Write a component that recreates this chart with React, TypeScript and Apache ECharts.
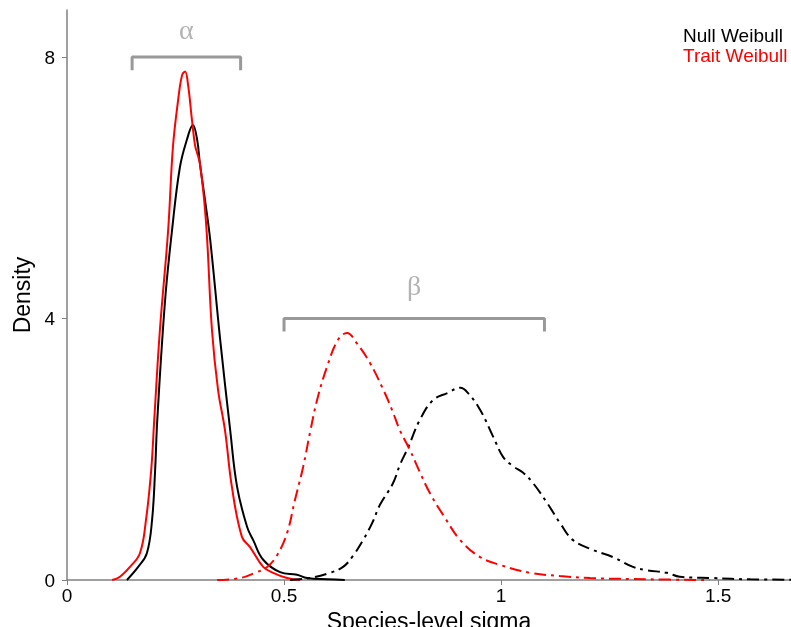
import React, { useEffect, useRef } from "react";
import * as echarts from "echarts";

const seriesNames = ["Null Weibull", "Trait Weibull"];
const seriesColors = ["#000000", "#ff0000"];

// alpha (solid) — Null Weibull
const nullAlphaX = [0.138, 0.164, 0.184, 0.196, 0.203, 0.208, 0.226, 0.242, 0.26, 0.276, 0.29, 0.3, 0.306, 0.318, 0.33, 0.353, 0.376, 0.392, 0.415, 0.429, 0.452, 0.491, 0.53, 0.553, 0.6, 0.64];
const nullAlphaY = [0, 0.2, 0.41, 0.92, 1.68, 2.45, 4.28, 5.35, 6.31, 6.73, 6.96, 6.73, 6.38, 5.81, 5.2, 3.67, 2.29, 1.42, 0.81, 0.61, 0.31, 0.12, 0.08, 0.03, 0.01, 0];

// alpha (solid) — Trait Weibull
const traitAlphaX = [0.104, 0.122, 0.145, 0.168, 0.182, 0.194, 0.201, 0.214, 0.233, 0.244, 0.256, 0.265, 0.272, 0.279, 0.288, 0.295, 0.3, 0.306, 0.316, 0.323, 0.334, 0.348, 0.364, 0.38, 0.403, 0.422, 0.452, 0.475, 0.507, 0.537];
const traitAlphaY = [0, 0.05, 0.2, 0.41, 0.92, 1.68, 2.45, 3.82, 5.35, 6.62, 7.34, 7.72, 7.78, 7.57, 7.03, 6.65, 6.53, 6.38, 5.81, 5.2, 3.82, 2.91, 2.29, 1.42, 0.66, 0.5, 0.2, 0.11, 0.03, 0];

// beta (dash-dot) — Null Weibull
const nullBetaX = [0.514, 0.56, 0.606, 0.636, 0.659, 0.682, 0.703, 0.721, 0.751, 0.767, 0.786, 0.813, 0.843, 0.876, 0.906, 0.924, 0.952, 0.982, 1.005, 1.028, 1.051, 1.074, 1.106, 1.136, 1.166, 1.212, 1.258, 1.304, 1.336, 1.382, 1.412, 1.488, 1.574, 1.668];
const nullBetaY = [0, 0.03, 0.11, 0.2, 0.37, 0.61, 0.87, 1.15, 1.48, 1.76, 2.03, 2.45, 2.75, 2.86, 2.94, 2.86, 2.6, 2.19, 1.88, 1.74, 1.64, 1.48, 1.18, 0.87, 0.61, 0.46, 0.35, 0.2, 0.15, 0.11, 0.05, 0.03, 0.01, 0.005];

// beta (dash-dot) — Trait Weibull
const traitBetaX = [0.346, 0.399, 0.433, 0.461, 0.484, 0.507, 0.525, 0.544, 0.56, 0.576, 0.599, 0.624, 0.645, 0.668, 0.698, 0.726, 0.749, 0.767, 0.79, 0.813, 0.836, 0.871, 0.906, 0.952, 0.998, 1.067, 1.136, 1.205, 1.343, 1.48];
const traitBetaY = [0, 0.03, 0.11, 0.2, 0.38, 0.72, 1.22, 1.73, 2.26, 2.75, 3.26, 3.67, 3.78, 3.62, 3.32, 2.95, 2.6, 2.29, 1.99, 1.65, 1.33, 0.95, 0.61, 0.35, 0.23, 0.11, 0.06, 0.03, 0.01, 0];

// brackets
const alphaBracketX = [0.15, 0.15, 0.4, 0.4];
const alphaBracketY = [7.8, 8.0, 8.0, 7.8];
const betaBracketX = [0.5, 0.5, 1.1, 1.1];
const betaBracketY = [3.8, 4.0, 4.0, 3.8];
const bracketLabels = ["α", "β"];
const bracketLabelX = [0.275, 0.8];
const bracketLabelY = [8.42, 4.5];

const xTicks = [0, 0.5, 1, 1.5];
const yTicks = [0, 4, 8];
const xMax = 1.668;
const yMax = 8.72;

const zip = (xs: number[], ys: number[]) => xs.map((x, i) => [x, ys[i]]);

const FONT = "Liberation Sans, Arial, sans-serif";
const DASHDOT = [12, 5, 3, 5];

export default function App() {
  const ref = useRef<HTMLDivElement>(null);
  useEffect(() => {
    if (!ref.current) return;
    const chart = echarts.init(ref.current, undefined, { renderer: "svg" });
    const curve = (name: string, color: string, data: number[][], dashed: boolean) => ({
      name,
      type: "line",
      data,
      showSymbol: false,
      symbol: "none",
      smooth: 0.4,
      lineStyle: { color, width: 2, type: dashed ? DASHDOT : "solid" },
      z: 3,
    });
    const bracket = (data: number[][]) => ({
      type: "line",
      data,
      symbol: "none",
      lineStyle: { color: "#999999", width: 3 },
      z: 2,
    });
    chart.setOption({
      animation: false,
      grid: { left: 67, right: 0, top: 10, bottom: 47, containLabel: false, outerBoundsMode: "none" },
      xAxis: {
        type: "value",
        min: 0,
        max: xMax,
        name: "Species-level sigma",
        nameLocation: "middle",
        nameGap: 24,
        nameTextStyle: { fontFamily: FONT, fontSize: 23, color: "#000" },
        axisLine: { show: true, onZero: false, lineStyle: { color: "#808080", width: 1.5 } },
        axisTick: { show: true, length: 5, lineStyle: { color: "#808080" }, customValues: xTicks },
        axisLabel: {
          fontFamily: FONT,
          fontSize: 19,
          color: "#000",
          margin: 6,
          customValues: xTicks,
          formatter: (v: number) => String(v),
        },
        splitLine: { show: false },
      },
      yAxis: {
        type: "value",
        min: 0,
        max: yMax,
        name: "Density",
        nameLocation: "middle",
        nameGap: 32,
        nameRotate: 90,
        nameTextStyle: { fontFamily: FONT, fontSize: 23, color: "#000" },
        axisLine: { show: true, onZero: false, lineStyle: { color: "#808080", width: 1.5 } },
        axisTick: { show: true, length: 5, lineStyle: { color: "#808080" }, customValues: yTicks },
        axisLabel: {
          fontFamily: FONT,
          fontSize: 19,
          color: "#000",
          margin: 12,
          customValues: yTicks,
          formatter: (v: number) => String(v),
        },
        splitLine: { show: false },
      },
      series: [
        bracket(zip(alphaBracketX, alphaBracketY)),
        bracket(zip(betaBracketX, betaBracketY)),
        {
          type: "scatter",
          symbolSize: 0,
          data: bracketLabelX.map((x, i) => ({ value: [x, bracketLabelY[i]], name: bracketLabels[i] })),
          label: {
            show: true,
            position: "inside",
            formatter: (p: any) => p.name,
            fontFamily: "Liberation Serif, DejaVu Serif, serif",
            fontSize: 28,
            color: "#a0a0a0",
          },
          silent: true,
        },
        curve(seriesNames[0], seriesColors[0], zip(nullAlphaX, nullAlphaY), false),
        curve(seriesNames[1], seriesColors[1], zip(traitAlphaX, traitAlphaY), false),
        curve(seriesNames[0], seriesColors[0], zip(nullBetaX, nullBetaY), true),
        curve(seriesNames[1], seriesColors[1], zip(traitBetaX, traitBetaY), true),
      ],
      graphic: seriesNames.map((n, i) => ({
        type: "text",
        left: 683,
        top: 26 + i * 20,
        style: { text: n, fill: seriesColors[i], fontFamily: FONT, fontSize: 19 },
      })),
    });
    return () => chart.dispose();
  }, []);
  return <div ref={ref} style={{ position: "fixed", left: 0, top: 0, width: 791, height: 627 }} />;
}
